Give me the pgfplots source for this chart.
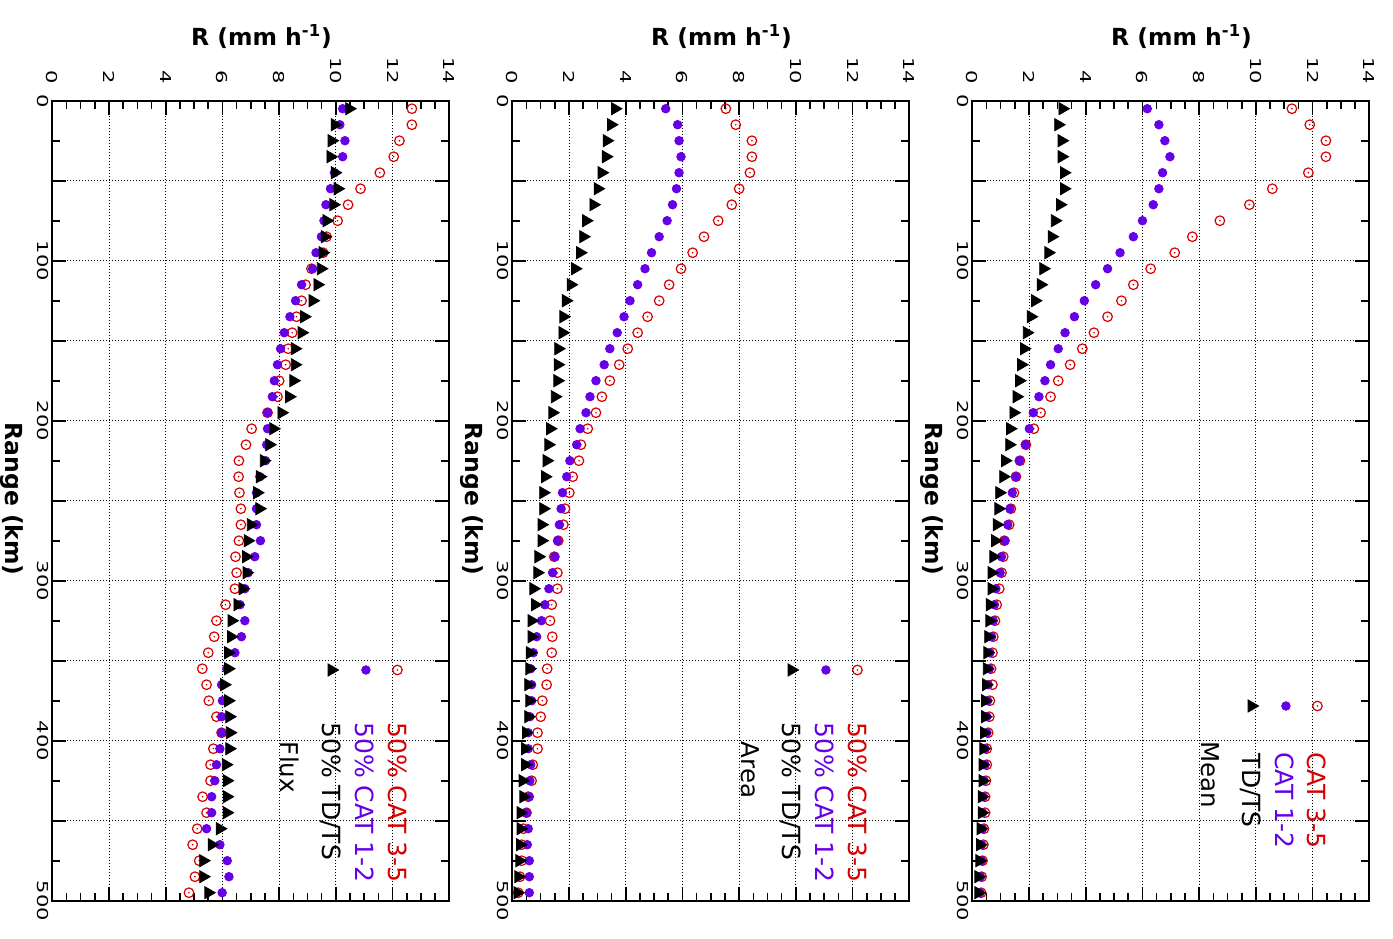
\documentclass[border=0pt]{standalone}
\usepackage{pgfplots}
\pgfplotsset{compat=1.18}
\usepackage{pgfplotstable}
\usepackage{fontspec}
\setmainfont{DejaVu Sans}
\newfontfamily\tickfamily{DejaVu Sans}[FakeStretch=1.4]
\newcommand\ticks{\tickfamily\fontsize{7.5}{9}\selectfont}
\newcommand\labfont{\bfseries\fontsize{11.75}{14}\selectfont}
\newcommand\legfont{\fontsize{12.5}{15}\selectfont}
\newcommand\namefont{\fontsize{12.25}{15}\selectfont}

\definecolor{catred}{RGB}{215,0,0}
\definecolor{catpur}{RGB}{102,0,230}

% open circle with a centre dot
\pgfdeclareplotmark{odot}{%
  \pgfpathcircle{\pgfpointorigin}{\pgfplotmarksize}\pgfusepathqstroke
  \pgfpathcircle{\pgfpointorigin}{0.45pt}\pgfusepathqfill}

\tikzset{
  s35/.style={only marks, mark=odot, mark size=2.4pt, draw=catred, fill=catred, mark options={line width=0.6pt}},
  s12/.style={only marks, mark=*, mark size=2.15pt, draw=catpur, fill=catpur},
  std/.style={only marks, mark=triangle*, mark size=3.5pt, draw=black, fill=black, mark options={rotate=-90}},
  legtext/.style={rotate=-90, anchor=west, inner sep=0pt, font=\legfont, text height=9.1pt, text depth=0pt},
  pname/.style={rotate=-90, anchor=west, inner sep=0pt, font=\namefont},
}

% range (km), R for CAT 3-5, CAT 1-2, TD/TS
\pgfplotstableread{
rng red pur blk
5 12.68 10.24 10.47
15 12.68 10.14 9.96
25 12.24 10.32 9.85
35 12.04 10.24 9.81
45 11.55 9.95 9.96
55 10.87 9.81 10.06
65 10.43 9.65 9.91
75 10.06 9.58 9.67
85 9.67 9.49 9.61
95 9.55 9.30 9.53
105 9.14 9.18 9.47
115 8.93 8.79 9.35
125 8.79 8.58 9.18
135 8.61 8.38 8.88
145 8.46 8.18 8.79
155 8.32 8.05 8.55
165 8.23 7.94 8.55
175 8.00 7.83 8.50
185 7.94 7.76 8.35
195 7.59 7.59 8.08
205 7.03 7.59 7.79
215 6.83 7.56 7.65
225 6.58 7.52 7.46
235 6.57 7.32 7.32
245 6.60 7.20 7.22
255 6.65 7.20 7.30
265 6.65 7.20 7.00
275 6.58 7.34 6.89
285 6.46 7.14 6.83
295 6.50 6.91 6.85
305 6.44 6.79 6.71
315 6.11 6.62 6.53
325 5.79 6.79 6.32
335 5.71 6.67 6.30
345 5.50 6.44 6.20
355 5.29 6.15 6.20
365 5.44 5.97 6.06
375 5.52 6.00 6.20
385 5.79 5.97 6.24
395 5.97 5.97 6.26
405 5.68 5.91 6.24
415 5.58 5.79 6.12
425 5.58 5.73 6.15
435 5.30 5.62 6.15
445 5.44 5.62 6.15
455 5.11 5.44 5.91
465 4.95 5.91 5.62
475 5.18 6.17 5.32
485 5.03 6.23 5.32
495 4.82 5.99 5.50
}\fluxdata

\pgfplotstableread{
rng red pur blk
5 7.53 5.41 3.62
15 7.88 5.83 3.48
25 8.45 5.88 3.33
35 8.45 5.95 3.30
45 8.38 5.88 3.15
55 8.00 5.79 3.01
65 7.74 5.65 2.86
75 7.26 5.46 2.60
85 6.76 5.18 2.50
95 6.36 4.91 2.39
105 5.95 4.68 2.21
115 5.53 4.42 2.06
125 5.18 4.15 1.89
135 4.77 3.94 1.80
145 4.42 3.70 1.77
155 4.07 3.44 1.62
165 3.77 3.24 1.60
175 3.44 2.95 1.59
185 3.16 2.74 1.50
195 2.95 2.60 1.41
205 2.66 2.39 1.33
215 2.42 2.27 1.27
225 2.35 2.03 1.21
235 2.13 1.92 1.15
245 2.01 1.77 1.09
255 1.86 1.72 1.09
265 1.80 1.66 1.03
275 1.62 1.60 1.03
285 1.48 1.50 0.92
295 1.59 1.42 0.88
305 1.59 1.29 0.74
315 1.39 1.15 0.80
325 1.33 1.03 0.68
335 1.41 0.86 0.68
345 1.39 0.74 0.62
355 1.23 0.65 0.60
365 1.21 0.68 0.56
375 1.06 0.68 0.60
385 1.00 0.62 0.56
395 0.89 0.56 0.48
405 0.89 0.56 0.45
415 0.72 0.65 0.45
425 0.68 0.62 0.36
435 0.56 0.60 0.39
445 0.50 0.50 0.29
455 0.39 0.56 0.29
465 0.33 0.53 0.27
475 0.33 0.60 0.25
485 0.27 0.60 0.21
495 0.21 0.60 0.18
}\areadata

\pgfplotstableread{
rng red pur blk
5 11.27 6.17 3.18
15 11.90 6.58 3.03
25 12.47 6.79 3.15
35 12.47 6.97 3.15
45 11.85 6.71 3.23
55 10.58 6.58 3.23
65 9.77 6.38 3.09
75 8.73 6.00 2.91
85 7.76 5.68 2.80
95 7.14 5.21 2.68
105 6.29 4.77 2.50
115 5.68 4.35 2.41
125 5.26 3.95 2.21
135 4.77 3.60 2.06
145 4.29 3.27 1.92
155 3.88 3.03 1.82
165 3.45 2.76 1.72
175 3.03 2.56 1.65
185 2.76 2.35 1.56
195 2.41 2.15 1.45
205 2.17 2.01 1.33
215 1.89 1.88 1.30
225 1.68 1.66 1.15
235 1.54 1.54 1.09
245 1.47 1.41 0.95
255 1.36 1.33 0.92
265 1.30 1.25 0.86
275 1.13 1.15 0.80
285 1.09 1.03 0.74
295 1.03 0.98 0.68
305 0.95 0.83 0.68
315 0.86 0.78 0.62
325 0.80 0.74 0.60
335 0.74 0.68 0.56
345 0.71 0.62 0.53
355 0.66 0.60 0.51
365 0.71 0.56 0.48
375 0.62 0.54 0.45
385 0.60 0.51 0.45
395 0.56 0.51 0.41
405 0.51 0.45 0.39
415 0.51 0.45 0.36
425 0.48 0.41 0.36
435 0.45 0.39 0.33
445 0.45 0.36 0.33
455 0.41 0.36 0.29
465 0.39 0.33 0.27
475 0.36 0.33 0.25
485 0.33 0.29 0.21
495 0.31 0.27 0.21
}\meandata

\pgfplotsset{
  panel/.style={
    scale only axis, width=198.5pt, height=400pt, anchor=south west,
    xmin=0, xmax=14, ymin=0, ymax=500, y dir=reverse,
    xtick={0,2,...,14}, minor x tick num=3,
    ytick={0,50,...,500}, yticklabels={0,,100,,200,,300,,400,,500},
    minor ytick={25,75,...,475},
    xticklabel pos=upper, xtick pos=both, ytick pos=both,
    tick align=inside, major tick length=7pt, minor tick length=4pt,
    axis line style={line width=1pt},
    every tick/.style={black, line width=0.8pt},
    grid=major,
    major grid style={black, line width=0.5pt, dash pattern=on 0.5pt off 1pt},
    /pgf/number format/assume math mode=true,
    xticklabel style={rotate=-90, anchor=east, inner sep=0pt, font=\ticks},
    xticklabel shift=8pt,
    yticklabel style={rotate=-90, anchor=north, inner sep=0pt, font=\ticks},
    yticklabel shift=1.5pt,
    xlabel={R (mm h\textsuperscript{-1})},
    every axis x label/.style={at={(axis description cs:0.527,1)}, yshift=32pt, anchor=center, font=\labfont},
    ylabel={Range (km)},
    every axis y label/.style={at={(axis description cs:0,0.502)}, xshift=-20pt, rotate=-90, anchor=center, font=\labfont},
  },
}

\begin{document}
\begin{tikzpicture}
\useasboundingbox (0,0) rectangle (696.5pt,469pt);

% Flux
\begin{axis}[panel, at={(26.15pt,18.65pt)}]
  \addplot[s35] table[x=red, y=rng] {\fluxdata};
  \addplot[s12] table[x=pur, y=rng] {\fluxdata};
  \addplot[std] table[x=blk, y=rng] {\fluxdata};
  % key
  \addplot[s35] coordinates {(12.17,355.8)};
  \addplot[s12] coordinates {(11.06,355.8)};
  \addplot[std] coordinates {(9.85,355.8)};
  \node[legtext, text=catred] at (axis cs:12.16,388.3) {50\% CAT 3-5};
  \node[legtext, text=catpur] at (axis cs:11.03,388.3) {50\% CAT 1-2};
  \node[legtext] at (axis cs:9.85,388.3) {50\% TD/TS};
  \node[pname] at (axis cs:8.38,400.5) {Flux};
\end{axis}

% Area
\begin{axis}[panel, at={(256.15pt,18.65pt)}]
  \addplot[s35] table[x=red, y=rng] {\areadata};
  \addplot[s12] table[x=pur, y=rng] {\areadata};
  \addplot[std] table[x=blk, y=rng] {\areadata};
  % key
  \addplot[s35] coordinates {(12.17,355.8)};
  \addplot[s12] coordinates {(11.06,355.8)};
  \addplot[std] coordinates {(9.85,355.8)};
  \node[legtext, text=catred] at (axis cs:12.16,388.3) {50\% CAT 3-5};
  \node[legtext, text=catpur] at (axis cs:11.03,388.3) {50\% CAT 1-2};
  \node[legtext] at (axis cs:9.85,388.3) {50\% TD/TS};
  \node[pname] at (axis cs:8.38,400.5) {Area};
\end{axis}

% Mean
\begin{axis}[panel, at={(486.15pt,18.65pt)}]
  \addplot[s35] table[x=red, y=rng] {\meandata};
  \addplot[s12] table[x=pur, y=rng] {\meandata};
  \addplot[std] table[x=blk, y=rng] {\meandata};
  % key
  \addplot[s35] coordinates {(12.17,378.3)};
  \addplot[s12] coordinates {(11.06,378.3)};
  \addplot[std] coordinates {(9.85,378.3)};
  \node[legtext, text=catred] at (axis cs:12.14,406.9) {CAT 3-5};
  \node[legtext, text=catpur] at (axis cs:11.03,406.9) {CAT 1-2};
  \node[legtext] at (axis cs:9.85,407.9) {TD/TS};
  \node[pname] at (axis cs:8.38,400) {Mean};
\end{axis}
\end{tikzpicture}
\end{document}
